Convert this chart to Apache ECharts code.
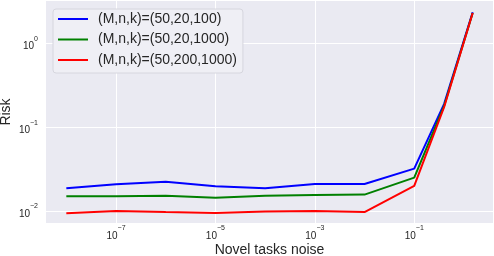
<!DOCTYPE html>
<html>
<head>
<meta charset="utf-8">
<script src="https://cdn.jsdelivr.net/npm/echarts@6/dist/echarts.min.js"></script>
<style>
html,body{margin:0;padding:0;background:#fff;}
#c{width:494px;height:256px;}
</style>
</head>
<body>
<div id="c"></div>
<script>
const noise = [1e-8, 1e-7, 1e-6, 1e-5, 1e-4, 1e-3, 1e-2, 1e-1, 0.4, 1.5];
const seriesNames = ['(M,n,k)=(50,20,100)', '(M,n,k)=(50,20,1000)', '(M,n,k)=(50,200,1000)'];
const riskBlue  = [0.0187, 0.0208, 0.0224, 0.0197, 0.0187, 0.0210, 0.0210, 0.0320, 0.190, 2.35];
const riskGreen = [0.0150, 0.0150, 0.0152, 0.0144, 0.0152, 0.0155, 0.0157, 0.0250, 0.180, 2.30];
const riskRed   = [0.0094, 0.0100, 0.0097, 0.0095, 0.0099, 0.0100, 0.0097, 0.0199, 0.174, 2.30];
const xTicks = [1e-7, 1e-5, 1e-3, 1e-1];
const yTicks = [1e-2, 1e-1, 1e0];
const colors = ['#0000FF', '#008000', '#FF0000'];

function expOf(v){
  if (v <= 0) return Math.round(v);
  return Math.round(Math.log10(v));
}
function fmt(v){
  const e = expOf(v);
  const s = e < 0 ? '\u2212' + Math.abs(e) : String(e);
  return '{b|10}{s|' + s + '}';
}
const rich = {
  b: {fontSize: 10, lineHeight: 16, verticalAlign: 'bottom', color: '#262626', fontFamily: 'Liberation Sans'},
  s: {fontSize: 7, lineHeight: 8, verticalAlign: 'top', color: '#262626', fontFamily: 'Liberation Sans'}
};
const dataSets = [riskBlue, riskGreen, riskRed];
const chart = echarts.init(document.getElementById('c'), null, {renderer: 'canvas'});
chart.setOption({
  animation: false,
  textStyle: {fontFamily: 'Liberation Sans'},
  grid: {left: 46, right: 1, top: 1, bottom: 33, show: true, backgroundColor: '#EAEAF2', borderWidth: 0, containLabel: false, outerBoundsMode: 'none'},
  legend: {
    left: 53, top: 9, orient: 'vertical',
    data: seriesNames,
    icon: 'rect', itemWidth: 30, itemHeight: 2, itemGap: 2.5,
    padding: [1, 6, 4, 5],
    backgroundColor: '#EFEFF5', borderColor: '#D6D6DE', borderWidth: 1, borderRadius: 3,
    textStyle: {fontSize: 14, color: '#262626', lineHeight: 18, padding: [0, 0, 0, 5], fontFamily: 'Liberation Sans'}
  },
  xAxis: {
    type: 'log', logBase: 10,
    min: Math.pow(10, -8.409), max: Math.pow(10, 0.585),
    name: 'Novel tasks noise', nameLocation: 'middle', nameGap: 20, nameMoveOverlap: false,
    nameTextStyle: {fontSize: 14, color: '#262626', fontFamily: 'Liberation Sans'},
    axisLine: {show: false}, axisTick: {show: false, customValues: xTicks},
    axisLabel: {customValues: xTicks, formatter: fmt, rich: rich, margin: 2},
    splitLine: {show: true, lineStyle: {color: '#FFFFFF', width: 1}},
    minorTick: {show: false}, minorSplitLine: {show: false}
  },
  yAxis: {
    type: 'log', logBase: 10,
    min: Math.pow(10, -2.143), max: Math.pow(10, 0.505),
    name: 'Risk', nameLocation: 'middle', nameGap: 33, nameRotate: 90, nameMoveOverlap: false,
    nameTextStyle: {fontSize: 14, color: '#262626', fontFamily: 'Liberation Sans'},
    axisLine: {show: false}, axisTick: {show: false, customValues: yTicks},
    axisLabel: {customValues: yTicks, formatter: fmt, rich: rich, margin: 8},
    splitLine: {show: true, lineStyle: {color: '#FFFFFF', width: 1}},
    minorTick: {show: false}, minorSplitLine: {show: false}
  },
  series: seriesNames.map((n, i) => ({
    name: n, type: 'line', showSymbol: false, symbol: 'none',
    color: colors[i],
    lineStyle: {color: colors[i], width: 2},
    data: noise.map((x, j) => [x, dataSets[i][j]])
  }))
});
</script>
</body>
</html>
